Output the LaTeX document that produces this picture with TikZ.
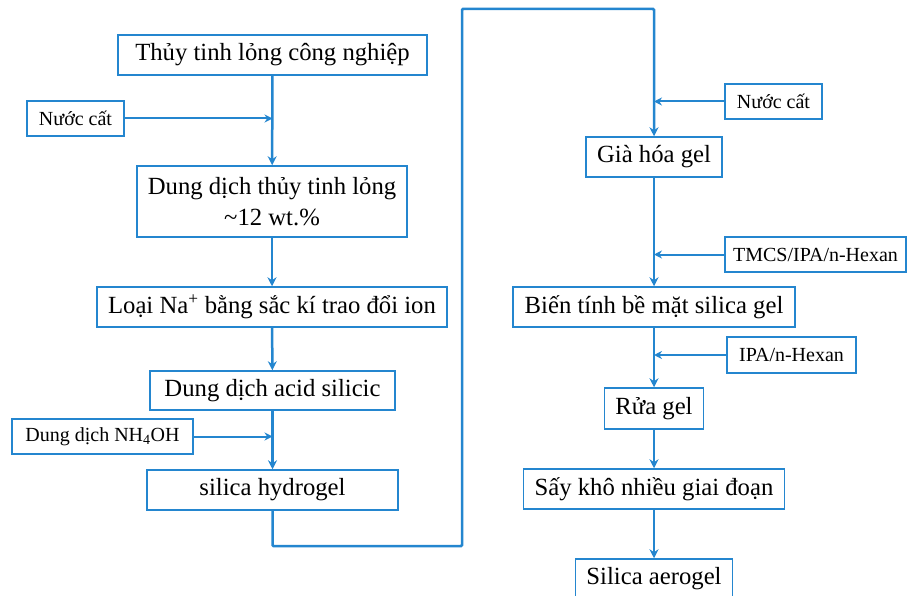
\documentclass[tikz,border=0pt]{standalone}
\usepackage{fontspec}
\setmainfont{Liberation Serif}
\usetikzlibrary{arrows.meta}
\definecolor{flowblue}{RGB}{36,134,207}

\begin{document}
\begin{tikzpicture}[x=1pt, y=-1pt]
% Box and line styles
\tikzset{
    stepbox/.style={draw=flowblue, line width=1.5pt, inner sep=0pt, align=center,
        font=\fontsize{24.7}{31}\selectfont},
    addbox/.style={draw=flowblue, line width=1.5pt, inner sep=0pt,
        minimum height=35pt, font=\fontsize{20}{24}\selectfont},
    flow/.style={draw=flowblue, line width=2.5pt, -{Stealth[length=9pt, width=9pt]}},
    feed/.style={draw=flowblue, line width=2pt, -{Stealth[length=8pt, width=8pt]}}
}
\useasboundingbox (0,0) rectangle (909,596);

% Nodes, left column
\node[stepbox, minimum width=309pt, minimum height=40pt] (TT) at (272.5, 55) {Thủy tinh lỏng công nghiệp};
\node[addbox, minimum width=97pt] (NC1) at (75.5, 118.5) {Nước cất};
\node[stepbox, minimum width=270pt, minimum height=71pt] (DD) at (272, 201.5) {Dung dịch thủy tinh lỏng\\\textasciitilde12 wt.\%};
\node[stepbox, minimum width=350pt, minimum height=40pt] (NA) at (272, 307) {Loại Na\textsuperscript{+} bằng sắc kí trao đổi ion};
\node[stepbox, minimum width=245pt, minimum height=39pt] (AS) at (272.5, 390.5) {Dung dịch acid silicic};
\node[addbox, minimum width=181pt] (NH) at (102.5, 436.5) {Dung dịch NH\textsubscript{4}OH};
\node[stepbox, minimum width=251pt, minimum height=40pt] (HG) at (272.5, 490) {silica hydrogel};

% Nodes, right column
\node[addbox, minimum width=97pt] (NC2) at (773.5, 101.5) {Nước cất};
\node[stepbox, minimum width=136pt, minimum height=40pt] (GH) at (654, 157) {Già hóa gel};
\node[addbox, minimum width=181pt] (TM) at (815.5, 254.5) {TMCS/IPA/n-Hexan};
\node[stepbox, minimum width=282pt, minimum height=40pt] (BT) at (654, 307) {Biến tính bề mặt silica gel};
\node[addbox, minimum width=129pt, minimum height=36pt] (IP) at (791.5, 355) {IPA/n-Hexan};
\node[stepbox, minimum width=99pt, minimum height=41pt] (RG) at (654, 408.5) {Rửa gel};
\node[stepbox, minimum width=261pt, minimum height=40pt] (SK) at (654, 489) {Sấy khô nhiều giai đoạn};
\node[stepbox, minimum width=157pt, minimum height=40pt] (AG) at (654, 579) {Silica aerogel};

% Bends of the long link
\coordinate (LOW) at (462, 546);
\coordinate (HIGH) at (462, 9);

% Connections
\draw[flow] (TT) -- (DD);
\draw[feed] (NC1.east) -- (NC1.east -| TT.south);
\draw[flow] (DD) -- (NA);
\draw[flow] (NA) -- (AS);
\draw[flow] (AS) -- (HG);
\draw[feed] (NH.east) -- (NH.east -| AS.south);
\draw[flow, rounded corners=1pt] (HG.south) |- (LOW) -- (HIGH) -| (GH.north);

\draw[feed] (NC2.west) -- (NC2.west -| GH.north);
\draw[flow] (GH) -- (BT);
\draw[feed] (TM.west) -- (TM.west -| GH.south);
\draw[flow] (BT) -- (RG);
\draw[feed] (IP.west) -- (IP.west -| BT.south);
\draw[flow] (RG) -- (SK);
\draw[flow] (SK) -- (AG);
\end{tikzpicture}
\end{document}
